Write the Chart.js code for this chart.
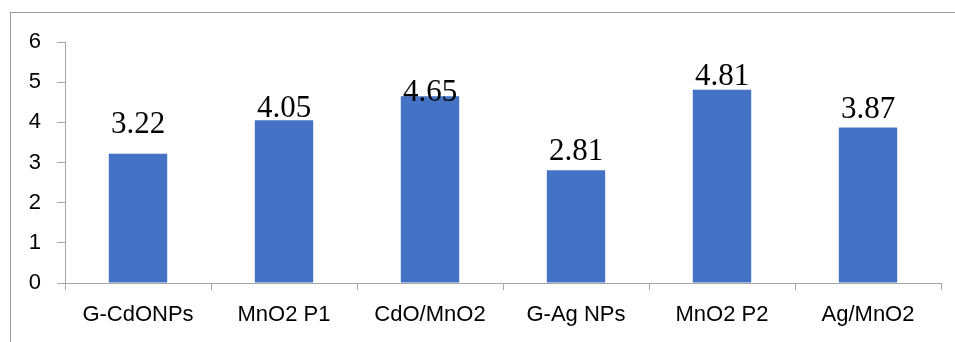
<!DOCTYPE html>
<html>
<head>
<meta charset="utf-8">
<script src="https://cdn.jsdelivr.net/npm/chart.js@4.4.0/dist/chart.umd.min.js"></script>
<style>
  html, body { margin: 0; padding: 0; background: #fff; }
  #wrap { position: relative; width: 955px; height: 342px; }
  #frame { position: absolute; left: 10px; top: 12px; width: 960px; height: 340px;
           border-left: 1px solid #999; border-top: 1px solid #999; box-sizing: border-box; }
  canvas { position: absolute; left: 0; top: 0; }
</style>
</head>
<body>
<div id="wrap">
  <div id="frame"></div>
  <canvas id="c" width="955" height="342"></canvas>
</div>
<script>
const categories = ["G-CdONPs", "MnO2 P1", "CdO/MnO2", "G-Ag NPs", "MnO2 P2", "Ag/MnO2"];
const values = [3.22, 4.05, 4.65, 2.81, 4.81, 3.87];
const yTicks = [0, 1, 2, 3, 4, 5, 6];
const labelGaps = [21, 3, -5, 10, 5, 10];

const dataLabels = {
  id: 'dataLabels',
  afterDatasetsDraw(chart) {
    const ctx = chart.ctx;
    const meta = chart.getDatasetMeta(0);
    ctx.save();
    ctx.font = '31px "Liberation Serif", "Times New Roman", serif';
    ctx.fillStyle = '#000';
    ctx.textAlign = 'center';
    ctx.textBaseline = 'alphabetic';
    meta.data.forEach((bar, i) => {
      ctx.fillText(values[i].toFixed(2), bar.x, bar.y - labelGaps[i]);
    });
    ctx.restore();
  }
};

new Chart(document.getElementById('c'), {
  type: 'bar',
  data: {
    labels: categories,
    datasets: [{
      data: values,
      backgroundColor: '#4472C4',
      borderWidth: 0,
      categoryPercentage: 1.0,
      barPercentage: 0.4
    }]
  },
  options: {
    responsive: false,
    animation: false,
    events: [],
    layout: { padding: { top: 42, right: 14, left: 0, bottom: 0 } },
    plugins: { legend: { display: false }, tooltip: { enabled: false } },
    scales: {
      x: {
        grid: { display: true, drawOnChartArea: false, drawTicks: true, tickLength: 7, color: '#a6a6a6', offset: true },
        border: { display: true, color: '#a6a6a6', width: 1 },
        ticks: { color: '#000', font: { family: '"Liberation Sans", Arial, sans-serif', size: 22 }, padding: 12, maxRotation: 0, autoSkip: false },
        afterFit(scale) { scale.height = 342 - 283; }
      },
      y: {
        min: 0, max: 6,
        afterBuildTicks(scale) { scale.ticks = yTicks.map(v => ({ value: v })); },
        grid: { display: true, drawOnChartArea: false, drawTicks: true, tickLength: 8, color: '#a6a6a6' },
        border: { display: true, color: '#a6a6a6', width: 1 },
        ticks: { color: '#000', font: { family: '"Liberation Sans", Arial, sans-serif', size: 22 }, padding: 16 },
        afterFit(scale) { scale.width = 65; }
      }
    }
  },
  plugins: [dataLabels]
});
</script>
</body>
</html>
